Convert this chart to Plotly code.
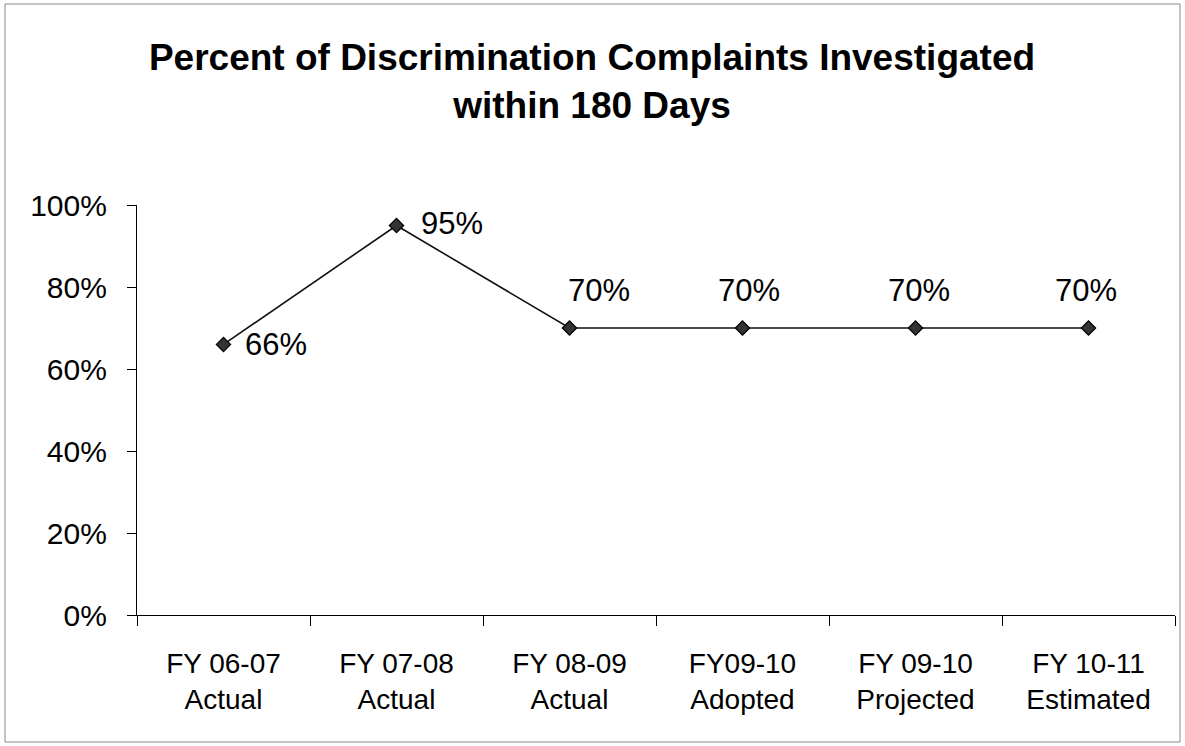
import plotly.graph_objects as go

categories = ["FY 06-07<br>Actual", "FY 07-08<br>Actual", "FY 08-09<br>Actual",
              "FY09-10<br>Adopted", "FY 09-10<br>Projected", "FY 10-11<br>Estimated"]
values = [0.66, 0.95, 0.70, 0.70, 0.70, 0.70]
labels = ["66%", "95%", "70%", "70%", "70%", "70%"]
y_ticks = [0, 0.2, 0.4, 0.6, 0.8, 1.0]
y_tick_text = ["0%", "20%", "40%", "60%", "80%", "100%"]

FONT = "Liberation Sans, Arial, sans-serif"

# label placement (style only)
label_style = [
    dict(xanchor="left", xshift=19, yshift=0),
    dict(xanchor="left", xshift=22, yshift=2),
    dict(xanchor="center", xshift=29, yshift=38),
    dict(xanchor="center", xshift=6, yshift=38),
    dict(xanchor="center", xshift=3, yshift=38),
    dict(xanchor="center", xshift=-3, yshift=38),
]

fig = go.Figure()
fig.add_trace(go.Scatter(
    x=categories, y=values, mode="lines+markers",
    line=dict(color="#111111", width=1.6),
    marker=dict(symbol="diamond", size=11, color="#333333",
                line=dict(color="#000000", width=1.2)),
    hoverinfo="skip", showlegend=False,
))

for cat, v, lab, st in zip(categories, values, labels, label_style):
    fig.add_annotation(x=cat, y=v, text=lab, showarrow=False,
                       xanchor=st["xanchor"], yanchor="middle",
                       xshift=st["xshift"], yshift=st["yshift"],
                       font=dict(family=FONT, size=31, color="#000000"))

fig.update_layout(
    width=1185, height=746,
    margin=dict(l=137, r=10, t=205, b=131),
    paper_bgcolor="white", plot_bgcolor="white",
    title=dict(text="<b>Percent of Discrimination Complaints Investigated<br>within 180 Days</b>",
               x=592 / 1185, xref="container", xanchor="center",
               y=1 - 70 / 746, yref="container", yanchor="middle",
               font=dict(family=FONT, size=37, color="#000000")),
    font=dict(family=FONT, size=28, color="#000000"),
)

fig.update_xaxes(
    type="category", tickson="boundaries", ticks="outside", ticklen=10,
    tickcolor="#000000", tickwidth=1, showline=True, linecolor="#000000",
    linewidth=1.2, showgrid=False, zeroline=False, range=[-0.5, 5.5],
    tickfont=dict(family=FONT, size=28, color="#000000"), ticklabelstandoff=23,
)
fig.update_yaxes(
    range=[0, 1], tickvals=y_ticks, ticktext=y_tick_text, ticks="outside",
    ticklen=9, tickcolor="#000000", showline=True, linecolor="#000000",
    linewidth=1.2, showgrid=False, zeroline=False,
    tickfont=dict(family=FONT, size=30, color="#000000"), ticklabelstandoff=14,
)

# figure frame
fig.add_shape(type="rect", xref="paper", yref="paper",
              x0=(5 - 137) / 1038, x1=(1180 - 137) / 1038,
              y0=(615 - 742) / 410, y1=(615 - 4) / 410,
              line=dict(color="#888888", width=1), layer="below")

fig.write_html("out.html", config={"displayModeBar": False},
               post_script="document.body.style.margin='0px';document.body.style.overflow='hidden';")
